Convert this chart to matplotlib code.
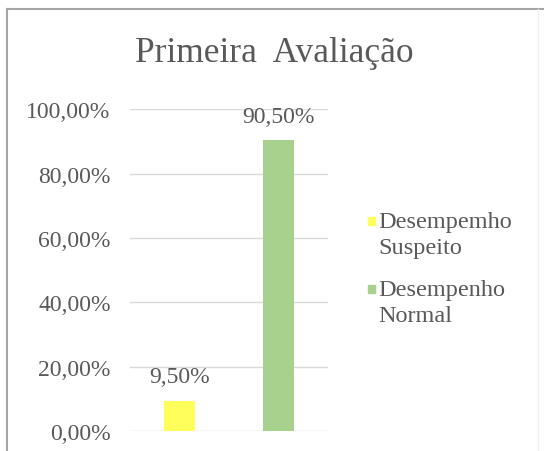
import matplotlib
matplotlib.use("Agg")
import matplotlib.pyplot as plt
from matplotlib.patches import Rectangle
from matplotlib.lines import Line2D

# ---- dados ----
categorias = ["Desempemho\nSuspeito", "Desempenho\nNormal"]
valores = [0.095, 0.905]
cores = ["#FFFF5C", "#A9D18E"]
yticks = [0.0, 0.2, 0.4, 0.6, 0.8, 1.0]
titulo = "Primeira  Avaliação"

def pct(v):
    return f"{v * 100:.2f}%".replace(".", ",")

plt.rcParams["font.family"] = ["Liberation Serif", "DejaVu Serif"]
cinza = "#595959"

fig = plt.figure(figsize=(5.44, 4.52), dpi=100)
ax = fig.add_axes([0.239, 0.044, 0.364, 0.712])

pos = list(range(len(valores)))
ax.bar(pos, valores, width=0.31, color=cores, zorder=3)
for p, v in zip(pos, valores):
    ax.annotate(pct(v), (p, v), xytext=(0, 17), textcoords="offset points",
                ha="center", va="center", fontsize=17, color=cinza,
                annotation_clip=False)

ax.set_xlim(-0.5, 1.5)
ax.set_ylim(0, 1)
ax.set_yticks(yticks)
ax.set_yticklabels([pct(t) for t in yticks])
ax.set_xticks([])
ax.tick_params(axis="y", length=0, pad=14, labelsize=17, labelcolor=cinza)
ax.yaxis.grid(True, color="#D9D9D9", linewidth=1, zorder=0)
for s in ax.spines.values():
    s.set_visible(False)

fig.text(274 / 544, 1 - 54 / 452, titulo, ha="center", va="center",
         fontsize=25.5, color=cinza)

# ---- legenda ----
y0 = 1 - 222 / 452
dy = 68 / 452
for i, (lab, c) in enumerate(zip(categorias, cores)):
    y = y0 - i * dy
    fig.patches.append(Rectangle((368 / 544, y - 4 / 452), 7 / 544, 8 / 452,
                                 transform=fig.transFigure, color=c))
    fig.text(378 / 544, y + 10 / 452, lab, ha="left", va="top", fontsize=17.5,
             color=cinza, linespacing=1.3)

# ---- moldura ----
fig.lines.append(Line2D([7 / 544, 7 / 544], [0, 1 - 10 / 452],
                        transform=fig.transFigure, color="#A6A6A6", lw=1.5))
fig.lines.append(Line2D([7 / 544, 1], [1 - 10 / 452, 1 - 10 / 452],
                        transform=fig.transFigure, color="#A6A6A6", lw=1.5))
fig.lines.append(Line2D([538 / 544, 538 / 544], [0, 1 - 10 / 452],
                        transform=fig.transFigure, color="#EEEEEE", lw=1))

fig.savefig("out.png", dpi=100)
